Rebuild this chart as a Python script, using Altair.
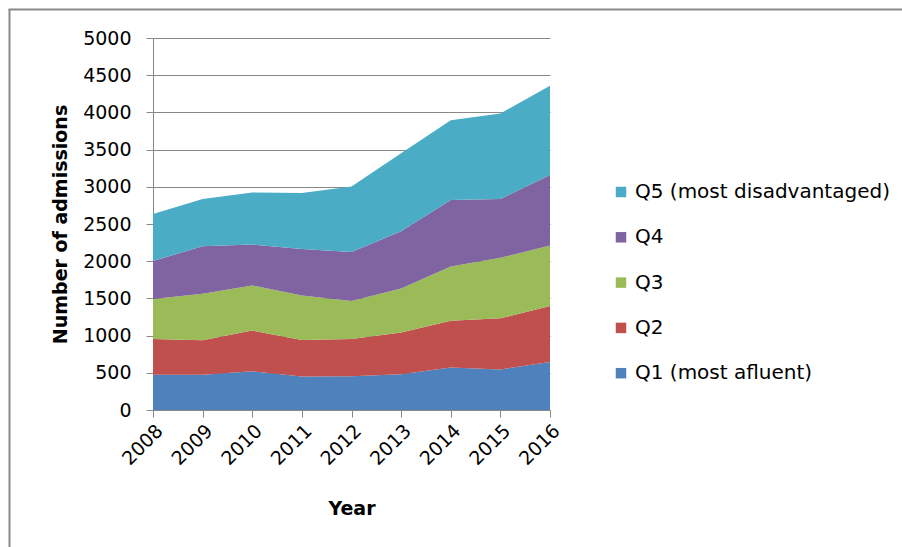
import altair as alt
import pandas as pd

years = ["2008", "2009", "2010", "2011", "2012", "2013", "2014", "2015", "2016"]
series_names = ["Q1 (most afluent)", "Q2", "Q3", "Q4", "Q5 (most disadvantaged)"]
q1 = [475, 475, 520, 450, 455, 480, 570, 545, 645]
q2 = [480, 462, 547, 492, 500, 560, 631, 687, 752]
q3 = [536, 625, 607, 598, 509, 594, 727, 813, 813]
q4 = [513, 639, 549, 625, 661, 768, 893, 790, 950]
q5 = [630, 634, 701, 750, 879, 1048, 1075, 1151, 1197]
colors = ["#4F81BD", "#C0504D", "#9BBB59", "#8064A2", "#4BACC6"]
y_ticks = [0, 500, 1000, 1500, 2000, 2500, 3000, 3500, 4000, 4500, 5000]

rows = []
for k, (name, vals) in enumerate(zip(series_names, [q1, q2, q3, q4, q5])):
    for yr, v in zip(years, vals):
        rows.append({"Year": yr, "Series": name, "Value": v, "k": k})
df = pd.DataFrame(rows)

FONT = "DejaVu Sans"

area = alt.Chart(df).mark_area(opacity=1).encode(
    x=alt.X("Year:O", scale=alt.Scale(type="point", padding=0),
            axis=alt.Axis(title="Year", labelAngle=-45, labelFontSize=19,
                          titleFontSize=19, titleFontWeight="bold",
                          tickSize=7, labelPadding=4, titlePadding=31,
                          domainColor="#888888", tickColor="#888888",
                          labelColor="black", titleColor="black",
                          labelFont=FONT, titleFont=FONT)),
    y=alt.Y("Value:Q", stack="zero",
            scale=alt.Scale(domain=[0, 5000], nice=False),
            axis=alt.Axis(title="Number of admissions", values=y_ticks, format="d",
                          labelFontSize=19, titleFontSize=19, titleFontWeight="bold",
                          tickSize=7, labelPadding=15, titlePadding=12,
                          domainColor="#888888", tickColor="#888888",
                          gridColor="#888888", grid=True,
                          labelColor="black", titleColor="black",
                          labelFont=FONT, titleFont=FONT)),
    color=alt.Color("Series:N",
                    scale=alt.Scale(domain=series_names[::-1], range=colors[::-1]),
                    legend=alt.Legend(title=None, orient="none", legendX=458, legendY=144,
                                      symbolType="square", symbolSize=110,
                                      symbolStrokeWidth=0, labelFontSize=20,
                                      labelFont=FONT, labelColor="black",
                                      labelLimit=400, rowPadding=25.3, padding=0,
                                      labelOffset=4)),
    order=alt.Order("k:Q", sort="ascending"),
)

one = pd.DataFrame({"a": [0]})
frame_left = alt.Chart(one).mark_rule(color="#8a8a8a", strokeWidth=2).encode(
    x=alt.value(-143.5), y=alt.value(-28.5), y2=alt.value(520))
frame_top = alt.Chart(one).mark_rule(color="#8a8a8a", strokeWidth=2).encode(
    x=alt.value(-144.5), x2=alt.value(760), y=alt.value(-28.5))

chart = alt.layer(area, frame_left, frame_top).properties(
    width=397, height=372,
    autosize=alt.AutoSizeParams(type="none"),
    padding={"left": 153, "top": 38, "right": 352, "bottom": 137},
    background="white",
).configure_view(stroke=None)

chart.save("out.html", embed_options={"renderer": "svg", "actions": False})
